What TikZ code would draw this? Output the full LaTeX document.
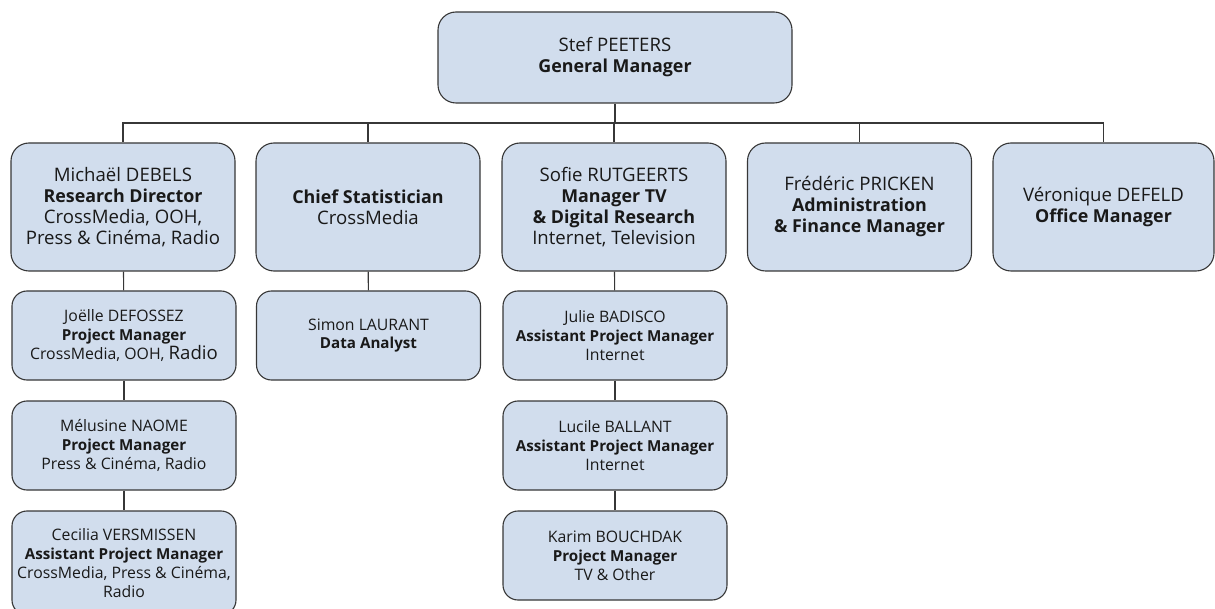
\documentclass[tikz,border=0pt]{standalone}
\usepackage{fontspec}
\setmainfont{Open Sans}[BoldFeatures={Scale=0.96}]
\definecolor{boxfill}{RGB}{209,221,237}
\definecolor{boxline}{RGB}{55,55,55}
\definecolor{boxtext}{RGB}{25,25,25}
\begin{document}
\begin{tikzpicture}[x=1pt,y=-1pt,
    bigbox/.style={draw=boxline, fill=boxfill, line width=1.1pt, rounded corners=18pt, align=center, text=boxtext, inner sep=2pt, font=\fontsize{18.6}{21}\selectfont, minimum width=224pt, minimum height=128pt},
    smallbox/.style={draw=boxline, fill=boxfill, line width=1.1pt, rounded corners=15pt, align=center, text=boxtext, inner sep=2pt, font=\fontsize{15.8}{18.8}\selectfont, minimum width=224pt, minimum height=89pt},
    link/.style={draw=boxline, line width=1.1pt}]
  \useasboundingbox (0,0) rectangle (1215,609);
  \node[bigbox, minimum width=354pt, minimum height=91pt] (gm) at (615,57.5) {Stef PEETERS\\\textbf{General Manager}};
  \node[bigbox] (rd) at (123,207) {Michaël DEBELS\\\textbf{Research Director}\\CrossMedia, OOH,\\Press \& Cinéma, Radio};
  \node[bigbox] (cs) at (368,207) {\textbf{Chief Statistician}\\CrossMedia};
  \node[bigbox] (tv) at (614,207) {Sofie RUTGEERTS\\\textbf{Manager TV}\\\textbf{\& Digital Research}\\Internet, Television};
  \node[bigbox] (af) at (859.5,207) {Frédéric PRICKEN\\\textbf{Administration}\\\textbf{\& Finance Manager}};
  \node[bigbox, minimum width=221pt] (om) at (1103.5,207) {Véronique DEFELD\\\textbf{Office Manager}};
  \node[smallbox] (jd) at (124,335.5) {Joëlle DEFOSSEZ\\\textbf{Project Manager}\\CrossMedia, OOH, {\fontsize{18.6}{18.8}\selectfont Radio}};
  \node[smallbox] (mn) at (124,445.5) {Mélusine NAOME\\\textbf{Project Manager}\\Press \& Cinéma, Radio};
  \node[smallbox, minimum height=104pt] (cv) at (124,563) {Cecilia VERSMISSEN\\\textbf{Assistant Project Manager}\\CrossMedia, Press \& Cinéma,\\Radio};
  \node[smallbox] (sl) at (368.5,335.5) {Simon LAURANT\\\textbf{Data Analyst}};
  \node[smallbox] (jb) at (615,335.5) {Julie BADISCO\\\textbf{Assistant Project Manager}\\Internet};
  \node[smallbox] (lb) at (615,445.5) {Lucile BALLANT\\\textbf{Assistant Project Manager}\\Internet};
  \node[smallbox] (kb) at (615,555.5) {Karim BOUCHDAK\\\textbf{Project Manager}\\TV \& Other};
  \coordinate (bar) at (615,123);
  \draw[link] (gm) -- (bar);
  \foreach \n in {rd,cs,tv,af,om}
    \draw[link] (bar) -| (\n.north);
  \draw[link] (rd) -- (jd);
  \draw[link] (jd) -- (mn);
  \draw[link] (mn) -- (cv);
  \draw[link] (cs) -- (sl);
  \draw[link] (tv) -- (jb);
  \draw[link] (jb) -- (lb);
  \draw[link] (lb) -- (kb);
\end{tikzpicture}
\end{document}
